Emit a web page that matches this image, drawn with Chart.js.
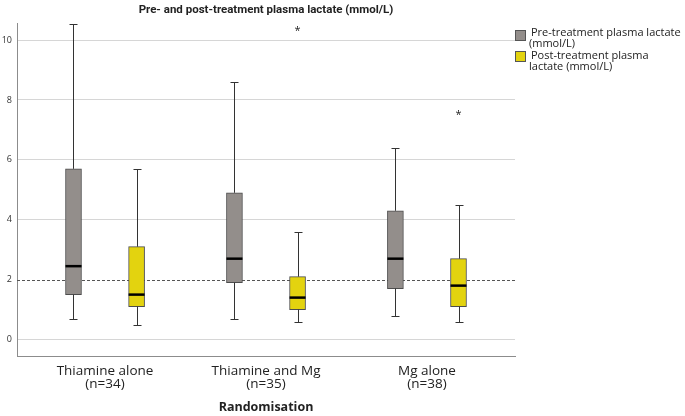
<!DOCTYPE html>
<html>
<head>
<meta charset="utf-8">
<script src="https://cdn.jsdelivr.net/npm/chart.js@4.4.1/dist/chart.umd.min.js"></script>
<style>
  body { margin: 0; background: #fff; }
  #wrap { position: relative; width: 685px; height: 416px; }
  .leg { position: absolute; font-family: "Open Sans", sans-serif; font-size: 11px; line-height: 10px; color: #222; white-space: nowrap; }
  .sw { position: absolute; width: 9px; height: 9px; border: 1px solid #555; }
</style>
</head>
<body>
<div id="wrap">
  <canvas id="myChart" width="685" height="416"></canvas>
  <div class="sw" style="left:515px;top:30px;background:#938e8b"></div>
  <div class="leg" style="left:531px;top:27px">Pre-treatment plasma lactate</div>
  <div class="leg" style="left:529px;top:38px">(mmol/L)</div>
  <div class="sw" style="left:515px;top:51px;background:#e3d30f"></div>
  <div class="leg" style="left:531px;top:50px">Post-treatment plasma</div>
  <div class="leg" style="left:529px;top:61px">lactate (mmol/L)</div>
</div>
<script>
const groups = ['Thiamine alone', 'Thiamine and Mg', 'Mg alone'];
const groupN = ['(n=34)', '(n=35)', '(n=38)'];

// pre-treatment boxes
const preMin = [0.7, 0.7, 0.8];
const preQ1 = [1.5, 1.9, 1.7];
const preMed = [2.45, 2.7, 2.7];
const preQ3 = [5.7, 4.9, 4.3];
const preMax = [10.55, 8.6, 6.4];
const preOut = [[], [], []];

// post-treatment boxes
const postMin = [0.5, 0.6, 0.6];
const postQ1 = [1.1, 1.0, 1.1];
const postMed = [1.5, 1.4, 1.8];
const postQ3 = [3.1, 2.1, 2.7];
const postMax = [5.7, 3.6, 4.5];
const postOut = [[], [10.4], [7.6]];

const yTicks = [0, 2, 4, 6, 8, 10];
const refLine = 2;

const FONT = '"Open Sans", sans-serif';
const shift = 0.196;

const boxes = [
  { min: preMin, q1: preQ1, med: preMed, q3: preQ3, max: preMax, out: preOut },
  { min: postMin, q1: postQ1, med: postMed, q3: postQ3, max: postMax, out: postOut }
];

const boxExtras = {
  id: 'boxExtras',
  beforeDatasetsDraw(chart) {
    const ctx = chart.ctx, a = chart.chartArea;
    const y = chart.scales.y.getPixelForValue(refLine);
    ctx.save();
    ctx.strokeStyle = '#555';
    ctx.lineWidth = 1;
    ctx.setLineDash([3, 2]);
    ctx.beginPath();
    ctx.moveTo(a.left, Math.round(y) + 0.5);
    ctx.lineTo(a.right, Math.round(y) + 0.5);
    ctx.stroke();
    ctx.restore();
  },
  afterDatasetsDraw(chart) {
    const ctx = chart.ctx, ys = chart.scales.y;
    ctx.save();
    boxes.forEach((b, d) => {
      chart.getDatasetMeta(d).data.forEach((bar, i) => {
        const x = Math.round(bar.x) + 0.5;
        const half = bar.width / 2;
        const yMax = Math.round(ys.getPixelForValue(b.max[i])) + 0.5;
        const yMin = Math.round(ys.getPixelForValue(b.min[i])) + 0.5;
        ctx.strokeStyle = '#333';
        ctx.lineWidth = 1;
        ctx.beginPath();
        ctx.moveTo(x, ys.getPixelForValue(b.q3[i]));
        ctx.lineTo(x, yMax);
        ctx.moveTo(x, ys.getPixelForValue(b.q1[i]));
        ctx.lineTo(x, yMin);
        ctx.moveTo(x - 4, yMax);
        ctx.lineTo(x + 4, yMax);
        ctx.moveTo(x - 4, yMin);
        ctx.lineTo(x + 4, yMin);
        ctx.stroke();
        ctx.strokeStyle = '#000';
        ctx.lineWidth = 2.5;
        ctx.beginPath();
        ctx.moveTo(bar.x - half, ys.getPixelForValue(b.med[i]));
        ctx.lineTo(bar.x + half, ys.getPixelForValue(b.med[i]));
        ctx.stroke();
        ctx.fillStyle = '#222';
        ctx.font = '11px ' + FONT;
        ctx.textAlign = 'center';
        ctx.textBaseline = 'middle';
        b.out[i].forEach(v => ctx.fillText('*', bar.x, ys.getPixelForValue(v) + 3));
      });
    });
    ctx.restore();
  }
};

const config = {
  type: 'bar',
  data: {
    datasets: [{
      label: 'Pre-treatment plasma lactate (mmol/L)',
      data: groups.map((g, i) => ({ x: i - shift, y: [preQ1[i], preQ3[i]] })),
      backgroundColor: '#938e8b',
      borderColor: '#4d4d4d',
      borderWidth: 1,
      borderSkipped: false,
      barThickness: 16,
      grouped: false
    }, {
      label: 'Post-treatment plasma lactate (mmol/L)',
      data: groups.map((g, i) => ({ x: i + shift, y: [postQ1[i], postQ3[i]] })),
      backgroundColor: '#e3d30f',
      borderColor: '#4d4d4d',
      borderWidth: 1,
      borderSkipped: false,
      barThickness: 16,
      grouped: false
    }]
  },
  options: {
    responsive: false,
    animation: false,
    layout: { padding: { left: 0, right: 170, top: 0, bottom: 0 } },
    plugins: {
      legend: { display: false },
      tooltip: { enabled: false },
      title: {
        display: true,
        fullSize: false,
        text: 'Pre- and post-treatment plasma lactate (mmol/L)',
        color: '#222',
        font: { family: 'Roboto, sans-serif', size: 11.5, weight: 'bold' },
        padding: { top: 3.5, bottom: 5.7 }
      }
    },
    scales: {
      x: {
        type: 'linear',
        offset: false,
        min: -0.547,
        max: 2.547,
        afterFit: s => { s.height = 60; },
        afterBuildTicks: s => { s.ticks = groups.map((g, i) => ({ value: i })); },
        grid: { display: false },
        border: { display: true, color: '#8c8c8c' },
        ticks: {
          padding: 1,
          color: '#222',
          font: { family: FONT, size: 13.5, lineHeight: 0.96 },
          maxRotation: 0,
          autoSkip: false,
          callback: (v, i) => [groups[i], groupN[i]]
        },
        title: {
          display: true,
          text: 'Randomisation',
          color: '#222',
          font: { family: FONT, size: 12.5, weight: 'bold' },
          padding: { top: 0, bottom: 1 }
        }
      },
      y: {
        min: -0.55,
        max: 10.57,
        afterFit: s => { s.width = 17; },
        afterBuildTicks: s => { s.ticks = yTicks.map(v => ({ value: v })); },
        grid: {
          drawTicks: false,
          color: c => (c.tick && c.tick.value === refLine) ? 'rgba(0,0,0,0)' : '#d6d6d6'
        },
        border: { display: true, color: '#8c8c8c' },
        ticks: {
          padding: 5,
          color: '#333',
          font: { family: FONT, size: 9 }
        }
      }
    }
  },
  plugins: [boxExtras]
};

const myChart = new Chart(document.getElementById('myChart').getContext('2d'), config);
</script>
</body>
</html>
